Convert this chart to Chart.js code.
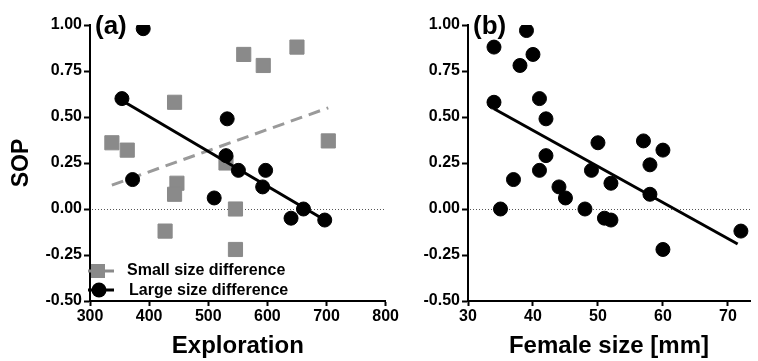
<!DOCTYPE html>
<html>
<head>
<meta charset="utf-8">
<script src="https://cdn.jsdelivr.net/npm/chart.js@4"></script>
<style>
    html, body { margin: 0; padding: 0; background: #fff; }
    #wrap { position: relative; width: 758px; height: 361px; overflow: hidden; }
    .panel { position: absolute; top: 0; height: 361px; }
    #panelA { left: 0; width: 400px; }
    #panelB { left: 390px; width: 368px; }
</style>
</head>
<body>
<div id="wrap">
    <div class="panel" id="panelA"><canvas id="chartA"></canvas></div>
    <div class="panel" id="panelB"><canvas id="chartB"></canvas></div>
</div>
<script>
// Panel (a): exploration vs SOP
const smallExpl = [337, 363, 443, 560, 593, 650, 703, 530, 447, 443, 427, 546, 546];
const smallSop = [0.36, 0.32, 0.58, 0.84, 0.78, 0.88, 0.37, 0.25, 0.14, 0.08, -0.12, 0.00, -0.22];
const largeExpl = [390, 354, 532, 530, 551, 597, 372, 510, 592, 661, 640, 697];
const largeSop = [0.98, 0.60, 0.49, 0.29, 0.21, 0.21, 0.16, 0.06, 0.12, 0.00, -0.05, -0.06];
const fitSmallX = [337, 703];
const fitSmallY = [0.13, 0.55];
const fitLargeX = [354, 697];
const fitLargeY = [0.59, -0.06];

// Panel (b): female size vs SOP
const femaleSize = [34, 39, 38, 40, 34, 41, 42, 42, 41, 50, 49, 57, 60, 58, 37, 44, 45, 48, 35, 51, 52, 52, 58, 60, 72];
const sopB = [0.88, 0.97, 0.78, 0.84, 0.58, 0.60, 0.49, 0.29, 0.21, 0.36, 0.21, 0.37, 0.32, 0.24, 0.16, 0.12, 0.06, 0.00, 0.00, -0.05, -0.06, 0.14, 0.08, -0.22, -0.12];
const fitBX = [34, 71.5];
const fitBY = [0.545, -0.19];

const legendLabels = ['Small size difference', 'Large size difference'];
const FONT = '"Liberation Sans", Arial, sans-serif';
const GREY = '#8a8a8a';

const toPoints = (xs, ys) => xs.map((x, i) => ({ x: x, y: ys[i] }));

// dotted reference line at SOP = 0
const zeroLine = {
    id: 'zeroLine',
    beforeDatasetsDraw(chart) {
        const { ctx, chartArea, scales } = chart;
        const y = Math.round(scales.y.getPixelForValue(0)) + 0.5;
        ctx.save();
        ctx.strokeStyle = '#555';
        ctx.lineWidth = 1;
        ctx.setLineDash([1, 2]);
        ctx.beginPath();
        ctx.moveTo(chartArea.left + 2, y);
        ctx.lineTo(chartArea.right, y);
        ctx.stroke();
        ctx.restore();
    }
};

// "(a)" / "(b)" labels
const panelTag = {
    id: 'panelTag',
    afterDraw(chart, args, opts) {
        const { ctx, chartArea } = chart;
        ctx.save();
        ctx.fillStyle = '#000';
        ctx.font = 'bold 26px ' + FONT;
        ctx.textBaseline = 'middle';
        ctx.textAlign = 'left';
        ctx.fillText(opts.text, chartArea.left + 5, chartArea.top + 2);
        ctx.restore();
    }
};

// legend drawn inside the plot, bottom-left
const insideLegend = {
    id: 'insideLegend',
    afterDraw(chart) {
        const { ctx, chartArea } = chart;
        const x0 = chartArea.left;
        const rows = [chartArea.bottom - 30, chartArea.bottom - 11];
        ctx.save();
        // small size difference
        ctx.strokeStyle = GREY;
        ctx.lineWidth = 3;
        ctx.beginPath();
        ctx.moveTo(x0 - 2, rows[0]);
        ctx.lineTo(x0 + 24, rows[0]);
        ctx.stroke();
        ctx.fillStyle = GREY;
        ctx.fillRect(x0 + 1, rows[0] - 7, 14, 14);
        // large size difference
        ctx.strokeStyle = '#000';
        ctx.beginPath();
        ctx.moveTo(x0 - 2, rows[1]);
        ctx.lineTo(x0 + 24, rows[1]);
        ctx.stroke();
        ctx.fillStyle = '#000';
        ctx.beginPath();
        ctx.arc(x0 + 9, rows[1], 7.5, 0, Math.PI * 2);
        ctx.fill();
        // text
        ctx.font = 'bold 16px ' + FONT;
        ctx.textBaseline = 'middle';
        ctx.fillStyle = '#000';
        ctx.fillText(legendLabels[0], x0 + 37, rows[0]);
        ctx.fillText(legendLabels[1], x0 + 39, rows[1] + 1);
        ctx.restore();
    }
};

function axisX(min, max, step, title, height) {
    return {
        type: 'linear',
        min: min,
        max: max,
        afterFit: scale => { scale.height = height; },
        ticks: {
            stepSize: step,
            includeBounds: false,
            color: '#000',
            font: { family: FONT, size: 16, weight: 'bold' },
            padding: 1,
            maxRotation: 0
        },
        grid: { display: true, drawOnChartArea: false, tickLength: 5, tickWidth: 2, tickColor: '#000' },
        border: { display: true, color: '#000', width: 2 },
        title: {
            display: true,
            text: title,
            color: '#000',
            font: { family: FONT, size: 24, weight: 'bold' },
            padding: { top: 0, bottom: 0 }
        }
    };
}

function axisY(width, showTitle) {
    return {
        type: 'linear',
        min: -0.5,
        max: 1.0,
        afterFit: scale => { scale.width = width; },
        ticks: {
            stepSize: 0.25,
            color: '#000',
            font: { family: FONT, size: 16, weight: 'bold' },
            padding: 2,
            callback: v => v.toFixed(2)
        },
        grid: { display: true, drawOnChartArea: false, tickLength: 6, tickWidth: 2, tickColor: '#000' },
        border: { display: true, color: '#000', width: 2 },
        title: {
            display: showTitle,
            text: 'SOP',
            color: '#000',
            font: { family: FONT, size: 23, weight: 'bold' },
            padding: { top: 8, bottom: 0 }
        }
    };
}

const commonOpts = {
    responsive: false,
    animation: false,
    plugins: { legend: { display: false }, tooltip: { enabled: false } }
};

function sizeCanvas(id, w, h) {
    const c = document.getElementById(id);
    c.width = w;
    c.height = h;
    c.style.width = w + 'px';
    c.style.height = h + 'px';
    return c;
}

new Chart(sizeCanvas('chartA', 400, 361), {
    type: 'scatter',
    data: {
        datasets: [
            {
                label: legendLabels[1],
                data: toPoints(largeExpl, largeSop),
                pointStyle: 'circle',
                pointRadius: 7,
                borderWidth: 1,
                backgroundColor: '#000',
                borderColor: '#000',
                order: 1
            },
            {
                type: 'line',
                data: toPoints(fitLargeX, fitLargeY),
                borderColor: '#000',
                borderWidth: 3,
                pointRadius: 0,
                fill: false,
                order: 2
            },
            {
                label: legendLabels[0],
                data: toPoints(smallExpl, smallSop),
                pointStyle: 'rect',
                pointRadius: 10,
                borderWidth: 1,
                backgroundColor: GREY,
                borderColor: GREY,
                order: 3
            },
            {
                type: 'line',
                data: toPoints(fitSmallX, fitSmallY),
                borderColor: '#9a9a9a',
                borderWidth: 3,
                borderDash: [12, 7],
                pointRadius: 0,
                fill: false,
                order: 4
            }
        ]
    },
    options: Object.assign({}, commonOpts, {
        layout: { padding: { top: 25, right: 10, left: 0, bottom: 0 } },
        scales: {
            x: axisX(300, 800, 100, 'Exploration', 60),
            y: axisY(90, true)
        },
        plugins: Object.assign({}, commonOpts.plugins, { panelTag: { text: '(a)' } })
    }),
    plugins: [zeroLine, panelTag, insideLegend]
});

new Chart(sizeCanvas('chartB', 368, 361), {
    type: 'scatter',
    data: {
        datasets: [
            {
                data: toPoints(femaleSize, sopB),
                pointStyle: 'circle',
                pointRadius: 7,
                borderWidth: 1,
                backgroundColor: '#000',
                borderColor: '#000',
                order: 1
            },
            {
                type: 'line',
                data: toPoints(fitBX, fitBY),
                borderColor: '#000',
                borderWidth: 3,
                pointRadius: 0,
                fill: false,
                order: 2
            }
        ]
    },
    options: Object.assign({}, commonOpts, {
        layout: { padding: { top: 25, right: 0, left: 0, bottom: 0 } },
        scales: {
            x: axisX(30, 73.4, 10, 'Female size [mm]', 60),
            y: axisY(78, false)
        },
        plugins: Object.assign({}, commonOpts.plugins, { panelTag: { text: '(b)' } })
    }),
    plugins: [zeroLine, panelTag]
});
</script>
</body>
</html>
